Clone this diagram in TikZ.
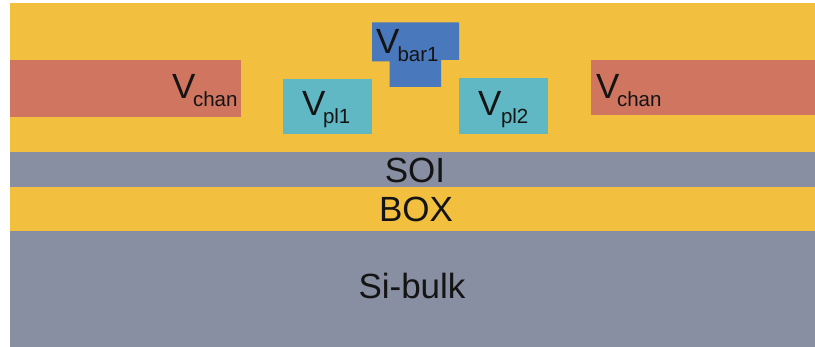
\documentclass[tikz,border=0pt]{standalone}
\usepackage{fontspec}
\setmainfont{Liberation Sans}
\definecolor{oxide}{HTML}{F2C03E}
\definecolor{silicon}{HTML}{888FA3}
\definecolor{chan}{HTML}{CF7560}
\definecolor{plunger}{HTML}{60B8C4}
\definecolor{barrier}{HTML}{4A78BC}
\definecolor{ink}{HTML}{141414}
\newcommand{\gatelabel}[2]{V\kern#2pt\raisebox{-8pt}{\fontsize{20.5}{20.5}\selectfont #1}}
\tikzset{
  layertext/.style={text=ink,font=\fontsize{35}{35}\selectfont,inner sep=0pt,anchor=base},
  gatetext/.style={text=ink,font=\fontsize{35}{35}\selectfont,inner sep=0pt,anchor=base west}
}
\begin{document}
\begin{tikzpicture}[x=1pt,y=-1pt]
\useasboundingbox (0,0) rectangle (815,347);
\fill[white] (0,0) rectangle (815,347);
% layers
\fill[oxide] (9.5,3.5) rectangle (815,152);
\fill[silicon] (9.5,152) rectangle (815,187.5);
\fill[oxide] (9.5,187.5) rectangle (815,231);
\fill[silicon] (9.5,231) rectangle (815,347);
% gates
\fill[chan] (9.5,60) rectangle (240.5,117);
\fill[chan] (590.5,60) rectangle (815,115);
\fill[plunger] (283,79) rectangle (372,134);
\fill[plunger] (459,78) rectangle (547.5,134);
\fill[barrier] (372,22.5) -- (459,22.5) -- (459,60) -- (441,60) -- (441,87) -- (389.5,87) -- (389.5,61.5) -- (372,61.5) -- cycle;
% labels
\node[gatetext] (vchanl) at (172,99) {\gatelabel{chan}{-2.5}};
\node[gatetext] (vchanr) at (596,99) {\gatelabel{chan}{-2.5}};
\node[gatetext] (vplone) at (302,116) {\gatelabel{pl1}{-2.5}};
\node[gatetext] (vpltwo) at (478,116) {\gatelabel{pl2}{-0.5}};
\node[gatetext] (vbar) at (376,54) {\gatelabel{bar1}{-2}};
\node[layertext] (soi) at (415,183) {SOI};
\node[layertext] (box) at (416,222) {BOX};
\node[layertext] (bulk) at (412,299) {Si-bulk};
\end{tikzpicture}
\end{document}
